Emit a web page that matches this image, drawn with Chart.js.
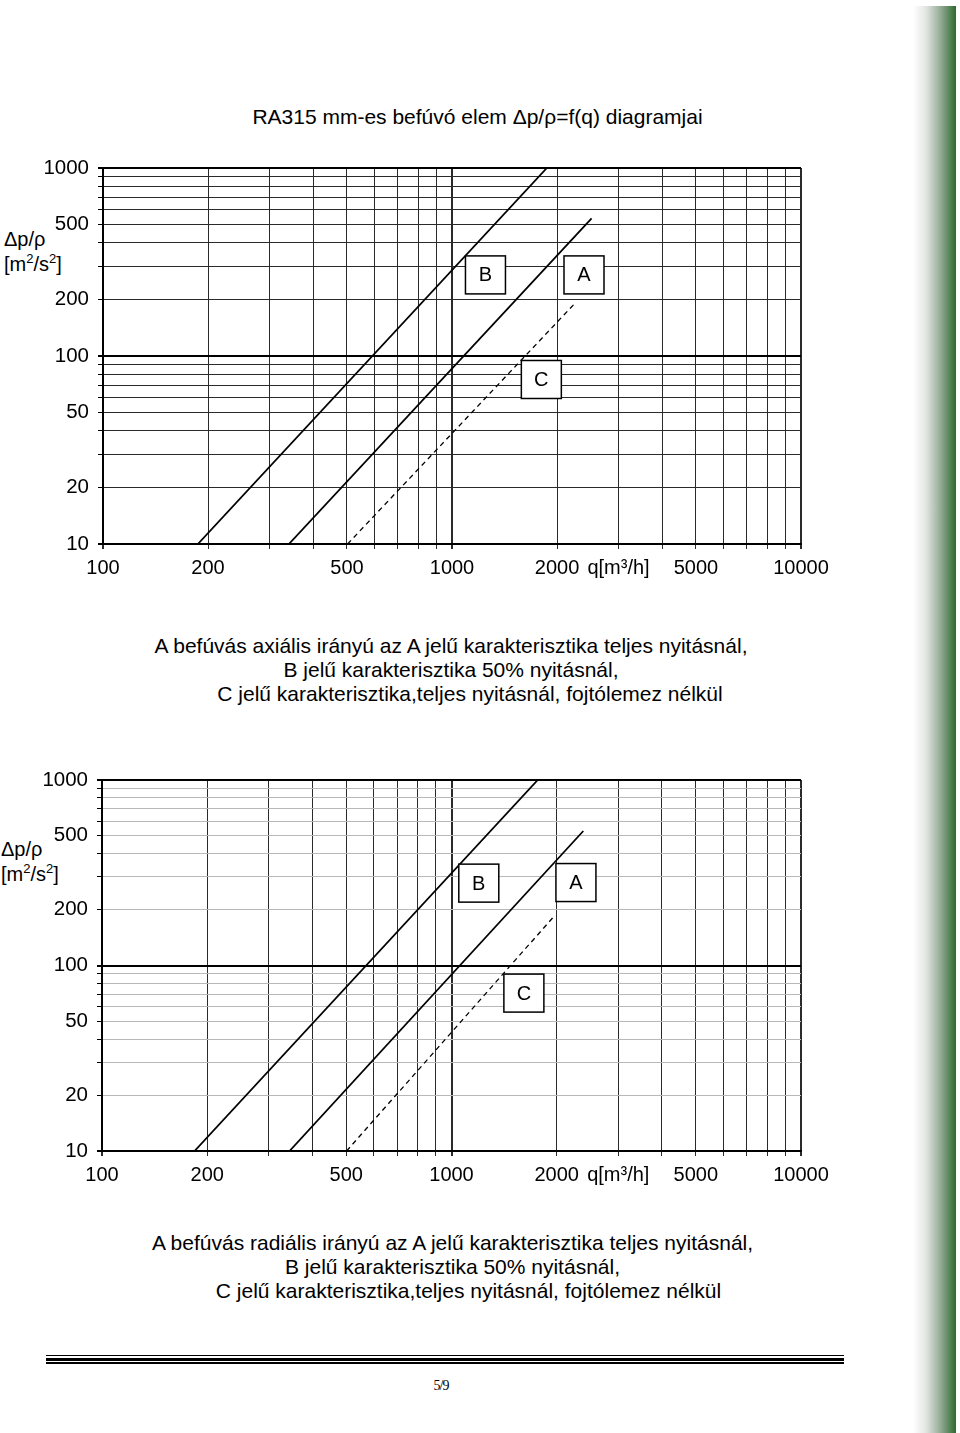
<!DOCTYPE html>
<html>
<head>
<meta charset="utf-8">
<script src="https://cdn.jsdelivr.net/npm/chart.js@4.4.1/dist/chart.umd.min.js"></script>
<style>
  body { margin: 0; background: #fff; font-family: "Liberation Sans", Arial, sans-serif; color: #000; }
  #page { position: relative; width: 960px; height: 1433px; overflow: hidden; }
  .abs { position: absolute; white-space: nowrap; }
  .cap { position: absolute; left: 0; width: 902px; text-align: center; font-size: 21px; line-height: 24px; }
  .cap .last { padding-left: 38px; }
  .ytitle { position: absolute; font-size: 20px; line-height: 25px; }
  .ytitle sup { font-size: 13px; vertical-align: 8px; line-height: 0; }
  canvas { position: absolute; left: 0; }
  .rule { position: absolute; left: 46px; width: 798px; background: #000; }
  #greenbar { position: absolute; left: 913px; top: 6px; width: 43px; bottom: 0;
    background: linear-gradient(to right, #ffffff 0%, #e2e6e2 30%, #9fb29f 60%, #2c6a2f 100%); }
</style>
</head>
<body>
<div id="page">
  <div id="greenbar"></div>

  <div class="abs" style="left:0; width:955px; text-align:center; top:105px; font-size:21px;">RA315 mm-es befúvó elem Δp/ρ=f(q) diagramjai</div>

  <div class="ytitle" style="left:4px; top:227px;">Δp/ρ<br>[m<sup>2</sup>/s<sup>2</sup>]</div>
  <canvas id="axialChart" width="900" height="450" style="top:140px;"></canvas>

  <div class="cap" style="top:634px;"><div>A befúvás axiális irányú az A jelű karakterisztika teljes nyitásnál,</div><div>B jelű karakterisztika 50% nyitásnál,</div><div class="last">C jelű karakterisztika,teljes nyitásnál, fojtólemez nélkül</div></div>

  <div class="ytitle" style="left:1px; top:837px;">Δp/ρ<br>[m<sup>2</sup>/s<sup>2</sup>]</div>
  <canvas id="radialChart" width="900" height="450" style="top:750px;"></canvas>

  <div class="cap" style="top:1231px; width:905px;"><div>A befúvás radiális irányú az A jelű karakterisztika teljes nyitásnál,</div><div>B jelű karakterisztika 50% nyitásnál,</div><div class="last" style="padding-left:32px;">C jelű karakterisztika,teljes nyitásnál, fojtólemez nélkül</div></div>

  <div class="rule" style="top:1355px; height:1px;"></div>
  <div class="rule" style="top:1358px; height:3px;"></div>
  <div class="rule" style="top:1362px; height:2px;"></div>
  <div class="abs" style="left:0; width:882px; text-align:center; top:1378px; font-family:'Liberation Serif','Times New Roman',serif; font-size:14px; letter-spacing:-1px;">5/9</div>
</div>

<script>
// grid values on both log axes
const qGrid = [100, 200, 300, 400, 500, 600, 700, 800, 900, 1000, 2000, 3000, 4000, 5000, 6000, 7000, 8000, 9000, 10000];
const pGrid = [10, 20, 30, 40, 50, 60, 70, 80, 90, 100, 200, 300, 400, 500, 600, 700, 800, 900, 1000];
const qLabelValues = [100, 200, 500, 1000, 2000, 3000, 5000, 10000];
const qLabelTexts = ['100', '200', '500', '1000', '2000', 'q[m³/h]', '5000', '10000'];
const pLabelValues = [10, 20, 50, 100, 200, 500, 1000];
const majorValues = [10, 100, 1000, 10000];

// axial blow-in: end points of the straight curves (log-log)
const axialAq = [341, 2512];
const axialAp = [10, 540];
const axialBq = [187, 1870];
const axialBp = [10, 1000];
const axialCq = [502, 2234];
const axialCp = [10, 188];
const axialTagNames = ['A', 'B', 'C'];
const axialTagQ = [2389, 1247, 1803];
const axialTagP = [270, 270, 75];

// radial blow-in
const radialAq = [344, 2383];
const radialAp = [10, 531];
const radialBq = [184, 1765];
const radialBp = [10, 1000];
const radialCq = [501, 1959];
const radialCp = [10, 183];
const radialTagNames = ['A', 'B', 'C'];
const radialTagQ = [2270, 1197, 1611];
const radialTagP = [280, 278, 71];

const FONT = '"Liberation Sans", Arial, sans-serif';

function pts(qs, ps) {
  return qs.map((q, i) => ({ x: q, y: ps[i] }));
}

// white boxes with the curve letters
const curveTags = {
  id: 'curveTags',
  afterDatasetsDraw(chart, args, opts) {
    const { ctx } = chart;
    const xs = chart.scales.x, ys = chart.scales.y;
    opts.names.forEach((name, i) => {
      const cx = xs.getPixelForValue(opts.q[i]);
      const cy = ys.getPixelForValue(opts.p[i]);
      ctx.save();
      ctx.fillStyle = '#fff';
      ctx.strokeStyle = '#000';
      ctx.lineWidth = 1.5;
      ctx.fillRect(cx - 20, cy - 19, 40, 38);
      ctx.strokeRect(cx - 20, cy - 19, 40, 38);
      ctx.fillStyle = '#000';
      ctx.font = '20px ' + FONT;
      ctx.textAlign = 'center';
      ctx.textBaseline = 'middle';
      ctx.fillText(name, cx, cy + 1);
      ctx.restore();
    });
  }
};

function makeChart(id, series, tags, box, hMinorColor) {
  const ctx = document.getElementById(id).getContext('2d');
  return new Chart(ctx, {
    type: 'line',
    data: {
      datasets: [
        { label: 'A', data: pts(series.Aq, series.Ap), borderColor: '#000', borderWidth: 1.8, pointRadius: 0, fill: false },
        { label: 'B', data: pts(series.Bq, series.Bp), borderColor: '#000', borderWidth: 1.8, pointRadius: 0, fill: false },
        { label: 'C', data: pts(series.Cq, series.Cp), borderColor: '#000', borderWidth: 1.3, borderDash: [5, 4], pointRadius: 0, fill: false }
      ]
    },
    options: {
      responsive: false,
      animation: false,
      layout: { padding: { top: box.top, right: box.right, left: 0, bottom: 0 } },
      plugins: {
        legend: { display: false },
        tooltip: { enabled: false },
        curveTags: tags
      },
      scales: {
        x: {
          type: 'logarithmic',
          min: 100,
          max: 10000,
          afterBuildTicks: (scale) => { scale.ticks = qGrid.map(v => ({ value: v })); },
          afterFit: (scale) => { scale.height = box.xh; },
          ticks: {
            autoSkip: false, maxRotation: 0, minRotation: 0, padding: 7,
            color: '#000', font: { family: FONT, size: 20 },
            callback: (v) => {
              const k = qLabelValues.indexOf(v);
              return k >= 0 ? qLabelTexts[k] : '';
            }
          },
          grid: {
            color: '#2a2a2a',
            lineWidth: (c) => (c.tick && majorValues.includes(c.tick.value) ? 2 : 1),
            tickLength: 5
          },
          border: { display: true, color: '#000', width: 2 }
        },
        y: {
          type: 'logarithmic',
          min: 10,
          max: 1000,
          afterBuildTicks: (scale) => { scale.ticks = pGrid.map(v => ({ value: v })); },
          afterFit: (scale) => { scale.width = box.yw; },
          ticks: {
            autoSkip: false, padding: 9,
            color: '#000', font: { family: FONT, size: 20.5 },
            callback: (v) => (pLabelValues.includes(v) ? String(v) : '')
          },
          grid: {
            color: (c) => (c.tick && majorValues.includes(c.tick.value) ? '#000' : hMinorColor),
            lineWidth: (c) => (c.tick && majorValues.includes(c.tick.value) ? 2 : 1),
            tickLength: 5,
            tickColor: '#000'
          },
          border: { display: true, color: '#000', width: 2 }
        }
      }
    },
    plugins: [curveTags]
  });
}

makeChart('axialChart',
  { Aq: axialAq, Ap: axialAp, Bq: axialBq, Bp: axialBp, Cq: axialCq, Cp: axialCp },
  { names: axialTagNames, q: axialTagQ, p: axialTagP },
  { top: 28, right: 99, xh: 46, yw: 103 },
  '#2a2a2a');

makeChart('radialChart',
  { Aq: radialAq, Ap: radialAp, Bq: radialBq, Bp: radialBp, Cq: radialCq, Cp: radialCp },
  { names: radialTagNames, q: radialTagQ, p: radialTagP },
  { top: 30, right: 99, xh: 49, yw: 102 },
  '#b8b8b8');
</script>
</body>
</html>
